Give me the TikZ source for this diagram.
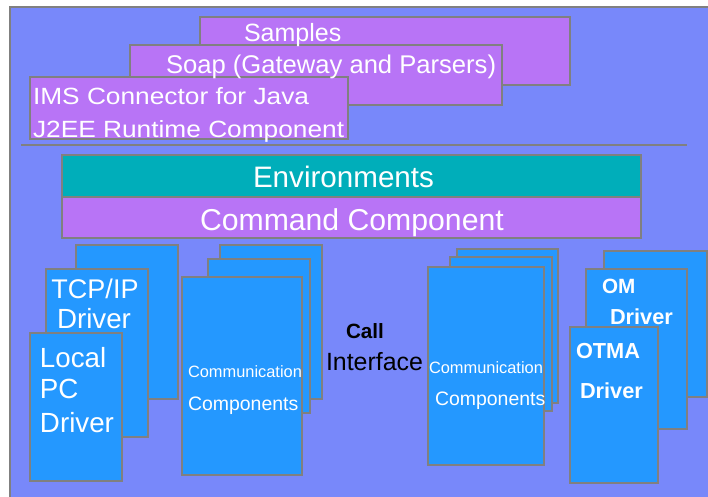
\documentclass[tikz,border=0pt]{standalone}
\usepackage{fontspec}
\setmainfont{Liberation Sans}
\newfontfamily\imsfont[FakeStretch=1.12]{Liberation Sans}
\definecolor{bgblue}{RGB}{120,136,250}
\definecolor{purp}{RGB}{184,116,246}
\definecolor{teal}{RGB}{0,174,186}
\definecolor{bluebox}{RGB}{36,152,255}
\definecolor{edge}{RGB}{128,128,128}
\newcommand\fsz[1]{\fontsize{#1}{#1}\selectfont}
\begin{document}
\begin{tikzpicture}[x=0.75pt,y=-0.75pt,line width=1.5pt,
  outerbox/.style={draw=edge,fill=bgblue},
  purpbox/.style={draw=edge,fill=purp},
  tealbox/.style={draw=edge,fill=teal},
  bbox/.style={draw=edge,fill=bluebox},
  sepline/.style={draw=edge},
  txt/.style={anchor=base west,inner sep=0pt,text=white},
  ctxt/.style={anchor=base,inner sep=0pt,text=white},
  btxt/.style={anchor=base west,inner sep=0pt,text=black}]
\fill[white] (0,0) rectangle (708,497);
\useasboundingbox (0,0) rectangle (708,497);
\path[outerbox] (10,7) rectangle (730,520);
% top layers
\path[purpbox] (200,17) rectangle (570,85);
\path[purpbox] (130,45) rectangle (502,105);
\path[purpbox] (30,77) rectangle (348,139);
\node[txt] (samples) at (243,41) {\fsz{18.75}Samples};
\node[txt] (soap) at (165,73) {\fsz{19.2}Soap (Gateway and Parsers)};
\node[txt] (ims1) at (32,104) {\imsfont\fsz{17.6}IMS Connector for Java};
\node[txt] (ims2) at (32,137) {\imsfont\fsz{17.6}J2EE Runtime Component};
\coordinate (sepL) at (21,145);
\coordinate (sepR) at (687,145);
\draw[sepline] (sepL) -- (sepR);
% environments and command
\path[tealbox] (62,155) rectangle (641,197);
\path[purpbox] (62,197) rectangle (641,238);
\node[txt] (env) at (252,187) {\fsz{22.2}Environments};
\node[txt] (cmd) at (199,230) {\fsz{22.65}Command Component};
% left drivers
\path[bbox] (76,245) rectangle (178,399);
\path[bbox] (46,269) rectangle (148,437);
\path[bbox] (30,333) rectangle (122,481);
\node[ctxt] (tcp) at (95,298) {\fsz{20.25}TCP/IP};
\node[ctxt] (tcpdrv) at (94,328) {\fsz{20.8}Driver};
\node[txt] (local) at (39,367) {\fsz{20.8}Local};
\node[txt] (pc) at (39,398) {\fsz{20.8}PC};
\node[txt] (localdrv) at (39,432) {\fsz{20.8}Driver};
% communication stack 1
\path[bbox] (220,245) rectangle (322,399);
\path[bbox] (208,259) rectangle (310,413);
\path[bbox] (182,277) rectangle (302,475);
\node[txt] (comm1a) at (187,377) {\fsz{12.3}Communication};
\node[txt] (comm1b) at (187,410) {\fsz{14.6}Components};
% call interface
\node[btxt] (call) at (345,338) {\fsz{15.5}\bfseries Call};
\node[btxt] (iface) at (325,370) {\fsz{18.7}Interface};
% communication stack 2
\path[bbox] (457,249) rectangle (558,403);
\path[bbox] (450,257) rectangle (552,411);
\path[bbox] (428,267) rectangle (544,465);
\node[txt] (comm2a) at (428,373) {\fsz{12.3}Communication};
\node[txt] (comm2b) at (434,405) {\fsz{14.6}Components};
% OM / OTMA drivers
\path[bbox] (604,251) rectangle (707,397);
\path[bbox] (586,269) rectangle (687,429);
\path[bbox] (570,327) rectangle (658,483);
\node[txt] (om) at (601,293) {\fsz{15.5}\bfseries OM};
\node[txt] (omdrv) at (609,324) {\fsz{16.3}\bfseries Driver};
\node[txt] (otma) at (575,358) {\fsz{16.3}\bfseries OTMA};
\node[txt] (otmadrv) at (579,398) {\fsz{16.3}\bfseries Driver};
\end{tikzpicture}
\end{document}
